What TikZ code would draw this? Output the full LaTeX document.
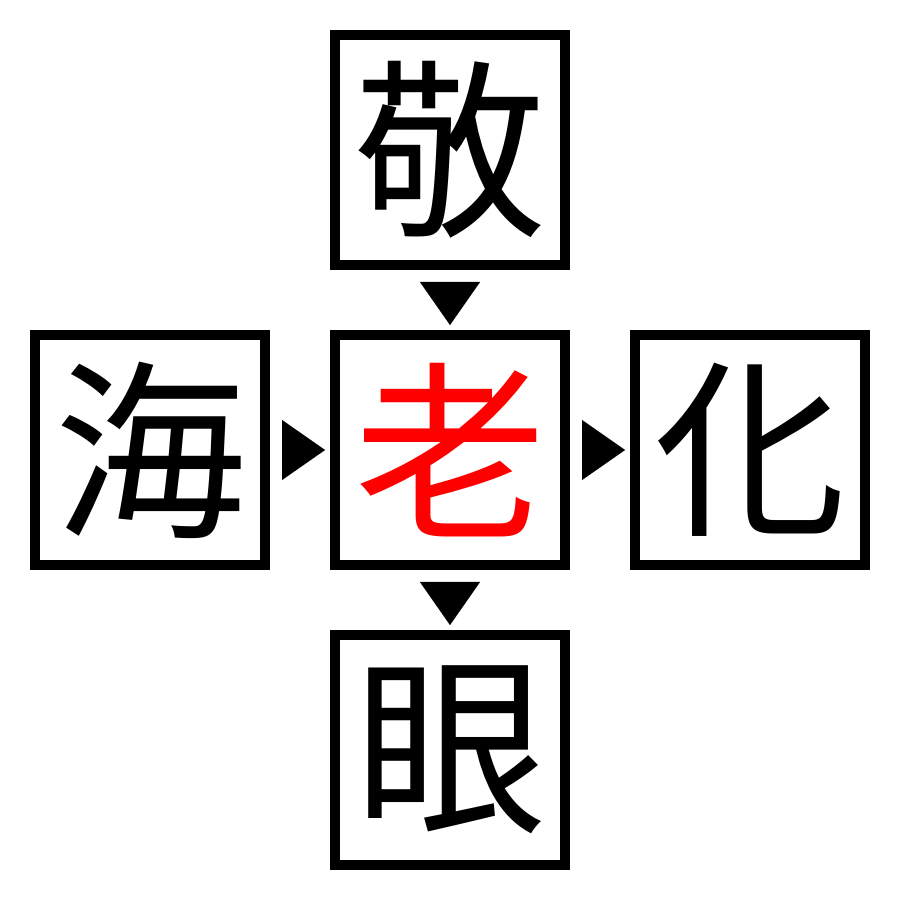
\documentclass[tikz,border=0pt]{standalone}
\usepackage{fontspec}
\newfontfamily\cjk{Noto Sans CJK JP}
\usetikzlibrary{arrows.meta,calc}
\begin{document}
\begin{tikzpicture}[x=1pt,y=1pt,
  charbox/.style={draw=black,line width=10pt,minimum size=230pt,inner sep=0pt,
    font=\cjk\fontsize{192pt}{192pt}\selectfont},
  tri/.style={line width=0.1pt,-{Triangle[length=43pt,width=60pt]}}]
\useasboundingbox (0,0) rectangle (900,900);
\node[charbox] (top) at (450,750) {敬};
\node[charbox,text=red] (mid) at (450,450) {老};
\node[charbox] (left) at (150,450) {海};
\node[charbox] (right) at (750,450) {化};
\node[charbox] (bot) at (450,150) {眼};
\draw[tri] ($(top.south)+(0,-22)$) -- ($(mid.north)+(0,5)$);
\draw[tri] ($(left.east)+(22,0)$) -- ($(mid.west)+(-5,0)$);
\draw[tri] ($(mid.east)+(22,0)$) -- ($(right.west)+(-5,0)$);
\draw[tri] ($(mid.south)+(0,-22)$) -- ($(bot.north)+(0,5)$);
\end{tikzpicture}
\end{document}
